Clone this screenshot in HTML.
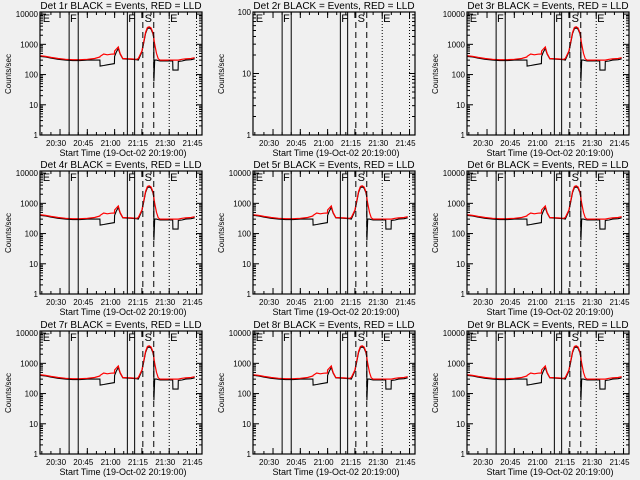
<!DOCTYPE html>
<html><head><meta charset="utf-8"><style>
body{margin:0;background:#f0f0f0;}
svg{display:block;font-family:"Liberation Sans",sans-serif;}
</style></head><body>
<svg id="c" width="640" height="480" viewBox="0 0 640 480"></svg>
<script>
// minutes since 20:19:00
const times = [0,3,6,10,14,18,22,26,30,32.9,33,35,37,39,40.9,41,42,43,44,45.5,50,53,54,56,57,58,59,60,61,62,62.5,62.6,63,64,65,66,67,70,72.9,73,75.9,76,78,80,83,85];
const redVals = [420,400,370,340,320,310,310,320,340,380,400,480,450,470,480,600,700,820,500,340,330,320,340,600,1200,2500,3600,3800,3500,2500,1800,1500,1000,500,330,300,300,300,300,300,300,300,320,330,340,360];
const blackVals = [400,380,350,320,300,290,290,300,300,300,190,200,210,220,230,400,560,720,480,330,320,310,300,560,1100,2300,3300,3500,3200,2300,1600,60,300,300,290,280,280,280,280,140,140,270,280,300,310,330];
const detLabels = ["1r","2r","3r","4r","5r","6r","7r","8r","9r"];
const xTickLabels = ["20:30","20:45","21:00","21:15","21:30","21:45"];
const xTickMinutes = [11,26,41,56,71,86];
const solidLines = [16,21,48,52];
const dashedLines = [56.5,62.5];
const dottedLines = [71,86];
const markers = [["E",1.5],["F",16.5],["F",48.5],["S",57.5],["E",71.5]];

const svg = document.getElementById('c');
const NS = 'http://www.w3.org/2000/svg';
function mk(t, a, parent){const e=document.createElementNS(NS,t);for(const k in a)e.setAttribute(k,a[k]);(parent||svg).appendChild(e);return e;}

const colX=[40,253,467], rowY=[12,171,331], W=162, H=123;
for(let p=0;p<9;p++){
  const x0=colX[p%3], y0=rowY[Math.floor(p/3)];
  const g=mk('g',{});
  
  
  const maxDec = p===1?2:4.07;
  const xs=t=>x0+t*1.82;
  const ys=v=>y0+H-(Math.log10(v)/maxDec)*H;
  const clipId='cl'+p;
  const cp=mk('clipPath',{id:clipId},g); mk('rect',{x:x0,y:y0,width:W,height:H},cp);
  const tt=mk('text',{x:x0+81,y:y0-3,'font-size':10,'text-anchor':'middle'},g);
  tt.textContent='Det '+detLabels[p]+' BLACK = Events, RED = LLD';
  
  
  const decs = p===1?[0,1,2]:[0,1,2,3,4];
  decs.forEach(d=>{
    const y=ys(Math.pow(10,d));
    if(y<y0-1)return;
    mk('line',{x1:x0,x2:x0+6,y1:y,y2:y,stroke:'#000'},g);
    mk('line',{x1:x0+W,x2:x0+W-6,y1:y,y2:y,stroke:'#000'},g);
    const l=mk('text',{x:x0-2,y:y+3,'font-size':8,'text-anchor':'end'},g);
    l.textContent=String(Math.pow(10,d));
    
    
    for(let m=2;m<10;m++){const yy=ys(m*Math.pow(10,d));if(yy<y0)break;
      mk('line',{x1:x0,x2:x0+3,y1:yy,y2:yy,stroke:'#000'},g);
      mk('line',{x1:x0+W,x2:x0+W-3,y1:yy,y2:yy,stroke:'#000'},g);}
  });
  const yt=mk('text',{x:0,y:0,'font-size':8,'text-anchor':'middle',transform:`translate(${x0-29},${y0+62}) rotate(-90)`},g);
  yt.textContent='Counts/sec';
  
  
  xTickMinutes.forEach((m,i)=>{const x=xs(m);
    mk('line',{x1:x,x2:x,y1:y0+H,y2:y0+H-6,stroke:'#000'},g);
    mk('line',{x1:x,x2:x,y1:y0,y2:y0+6,stroke:'#000'},g);
    const l=mk('text',{x:x-4,y:y0+H+11,'font-size':8,'text-anchor':'middle'},g);
    l.textContent=xTickLabels[i];
    
    
  });
  for(let m=1;m<89;m+=5){const x=xs(m);
    mk('line',{x1:x,x2:x,y1:y0+H,y2:y0+H-3,stroke:'#000'},g);
    mk('line',{x1:x,x2:x,y1:y0,y2:y0+3,stroke:'#000'},g);}
  const xt=mk('text',{x:x0+83,y:y0+H+21,'font-size':9,'text-anchor':'middle'},g);
  xt.textContent='Start Time (19-Oct-02 20:19:00)';
  
  
  if(p!==1){
    const pts=a=>{let s='';times.forEach((t,i)=>{s+=(i?'L':'M')+xs(t).toFixed(1)+','+ys(a[i]).toFixed(1);});return s;};
    const b=mk('path',{d:pts(blackVals),fill:'none',stroke:'#000','stroke-width':1.1,'clip-path':`url(#${clipId})`},g);
    
    
    const r=mk('path',{d:pts(redVals),fill:'none',stroke:'#f00','stroke-width':1.2,'clip-path':`url(#${clipId})`},g);
    
    
  }
  solidLines.forEach(m=>mk('line',{x1:xs(m),x2:xs(m),y1:y0,y2:y0+H,stroke:'#000','stroke-width':1},g));
  dashedLines.forEach(m=>mk('line',{x1:xs(m),x2:xs(m),y1:y0,y2:y0+H,stroke:'#000','stroke-dasharray':'6,4'},g));
  dottedLines.forEach(m=>mk('line',{x1:xs(m),x2:xs(m),y1:y0,y2:y0+H,stroke:'#000','stroke-dasharray':'1,2'},g));
  markers.forEach(([s,m])=>{const l=mk('text',{x:xs(m),y:y0+10,'font-size':11},g);l.textContent=s;
    
    });
  mk('rect',{x:x0,y:y0,width:W,height:H,fill:'none',stroke:'#000','stroke-width':1.2},g);
}
</script>
</body></html>
